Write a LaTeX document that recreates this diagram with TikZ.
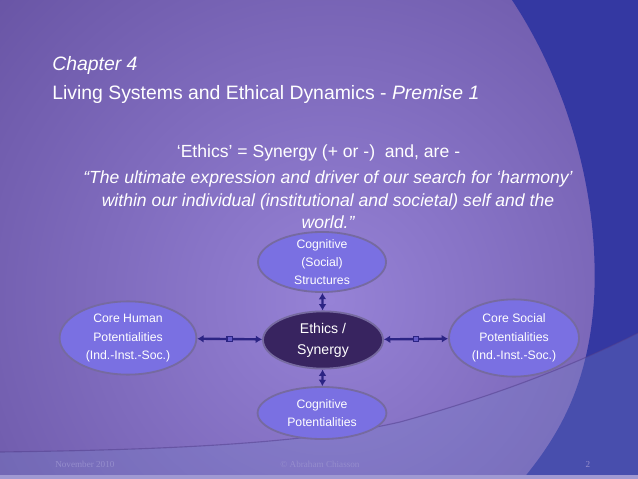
\documentclass[tikz,border=0pt]{standalone}
\usepackage{fontspec}
\setmainfont{Liberation Sans}
\newfontfamily\footfont{Liberation Serif}
\usepackage{xcolor}
\usepackage{tikz}
\usetikzlibrary{shapes.geometric, arrows, arrows.meta, positioning, fit}

\definecolor{bgdark}{RGB}{80,60,138}
\definecolor{bglight}{RGB}{150,130,214}
\definecolor{sideblue}{RGB}{52,56,162}
\definecolor{lowband}{RGB}{120,132,200}
\definecolor{bubblefill}{RGB}{122,112,226}
\definecolor{bubbleline}{RGB}{118,106,160}
\definecolor{corefill}{RGB}{56,36,96}
\definecolor{linkcol}{RGB}{44,36,132}
\definecolor{footcol}{RGB}{150,142,205}

\begin{document}
\begin{tikzpicture}[x=0.025cm, y=-0.025cm]
	% Styles
	\tikzstyle{bubble} = [ellipse, draw=bubbleline, line width=1.3pt, fill=bubblefill, inner sep=0pt]
	\tikzstyle{core} = [bubble, fill=corefill]
	\tikzstyle{words} = [text=white, align=center, font=\fontsize{8.7}{13}\selectfont]
	\tikzstyle{bigwords} = [text=white, align=center, font=\fontsize{10}{15}\selectfont]
	\tikzstyle{heading} = [text=white, inner sep=0pt, font=\fontsize{13.8}{16}\selectfont]
	\tikzstyle{body} = [text=white, inner sep=0pt, align=center, font=\fontsize{12.5}{16}\selectfont]
	\tikzstyle{footer} = [text=footcol, inner sep=0pt, font=\footfont\fontsize{6.5}{8}\selectfont]
	\tikzstyle{link} = [draw=linkcol, line width=1.7pt, {Latex[length=4.5pt,width=5.5pt]}-{Latex[length=4.5pt,width=5.5pt]}]
	\tikzstyle{joint} = [rectangle, draw=linkcol, fill=bubblefill!70!linkcol, line width=0.8pt, minimum size=3.8pt, inner sep=0pt]

	% Background
	\useasboundingbox (0,0) rectangle (638,479);
	\clip (0,0) rectangle (638,479);
	\shade [inner color=bglight, outer color=bgdark] (330,300) circle [radius=700];
	\fill [sideblue] (512,0) .. controls (565,80) and (600,190) .. (594,300)
		.. controls (588,390) and (555,440) .. (523,479) -- (638,479) -- (638,0) -- cycle;
	\fill [lowband, opacity=0.3] (0,452) .. controls (150,450) and (300,445) .. (400,422)
		.. controls (480,400) and (560,372) .. (638,333) -- (638,479) -- (0,479) -- cycle;
	\draw [bgdark, opacity=0.5, line width=0.8pt] (0,452) .. controls (150,450) and (300,445) .. (400,422)
		.. controls (480,400) and (560,372) .. (638,333);
	\fill [footcol!90!white] (0,475) rectangle (638,479);

	% Texts
	\node (chapter) [heading, anchor=base west] at (52,71) {\itshape Chapter 4};
	\node (title) [heading, anchor=base west] at (52,99.5) {Living Systems and Ethical Dynamics - \textit{Premise 1}};
	\node (motto) [body, anchor=base] at (318.5,157) {‘Ethics’ = Synergy (+ or -)\ \ and, are -};
	\node (quote) [body, anchor=center] at (328,200) {\itshape “The ultimate expression and driver of our search for ‘harmony’\\
		\itshape within our individual (institutional and societal) self and the\\ \itshape world.”};

	% Nodes with absolute coordinates
	\node (structures) [bubble, minimum width=3.2cm, minimum height=1.5cm,
		label={[words]center:Cognitive\\(Social)\\Structures}] at (322,262) {};
	\node (ethics) [core, minimum width=3.0cm, minimum height=1.43cm,
		label={[bigwords]center:Ethics /\\Synergy}] at (323,340) {};
	\node (potentials) [bubble, minimum width=3.22cm, minimum height=1.3cm,
		label={[words]center:Cognitive\\Potentialities}] at (322,413) {};
	\node (human) [bubble, minimum width=3.42cm, minimum height=1.83cm,
		label={[words]center:Core Human\\Potentialities\\(Ind.-Inst.-Soc.)}] at (128,338) {};
	\node (social) [bubble, minimum width=3.25cm, minimum height=1.93cm,
		label={[words]center:Core Social\\Potentialities\\(Ind.-Inst.-Soc.)}] at (514,338) {};

	% Connections
	\draw [link] (human) -- node [joint] {} (ethics);
	\draw [link] (ethics) -- node [joint] {} (social);
	\draw [link] (structures) -- (ethics);
	\draw [link] (ethics) -- (potentials);

	% Footer
	\node (date) [footer, anchor=west] at (55,464) {November 2010};
	\node (owner) [footer] at (320,464) {© Abraham Chiasson};
	\node (page) [footer] at (588,464) {2};
\end{tikzpicture}
\end{document}
